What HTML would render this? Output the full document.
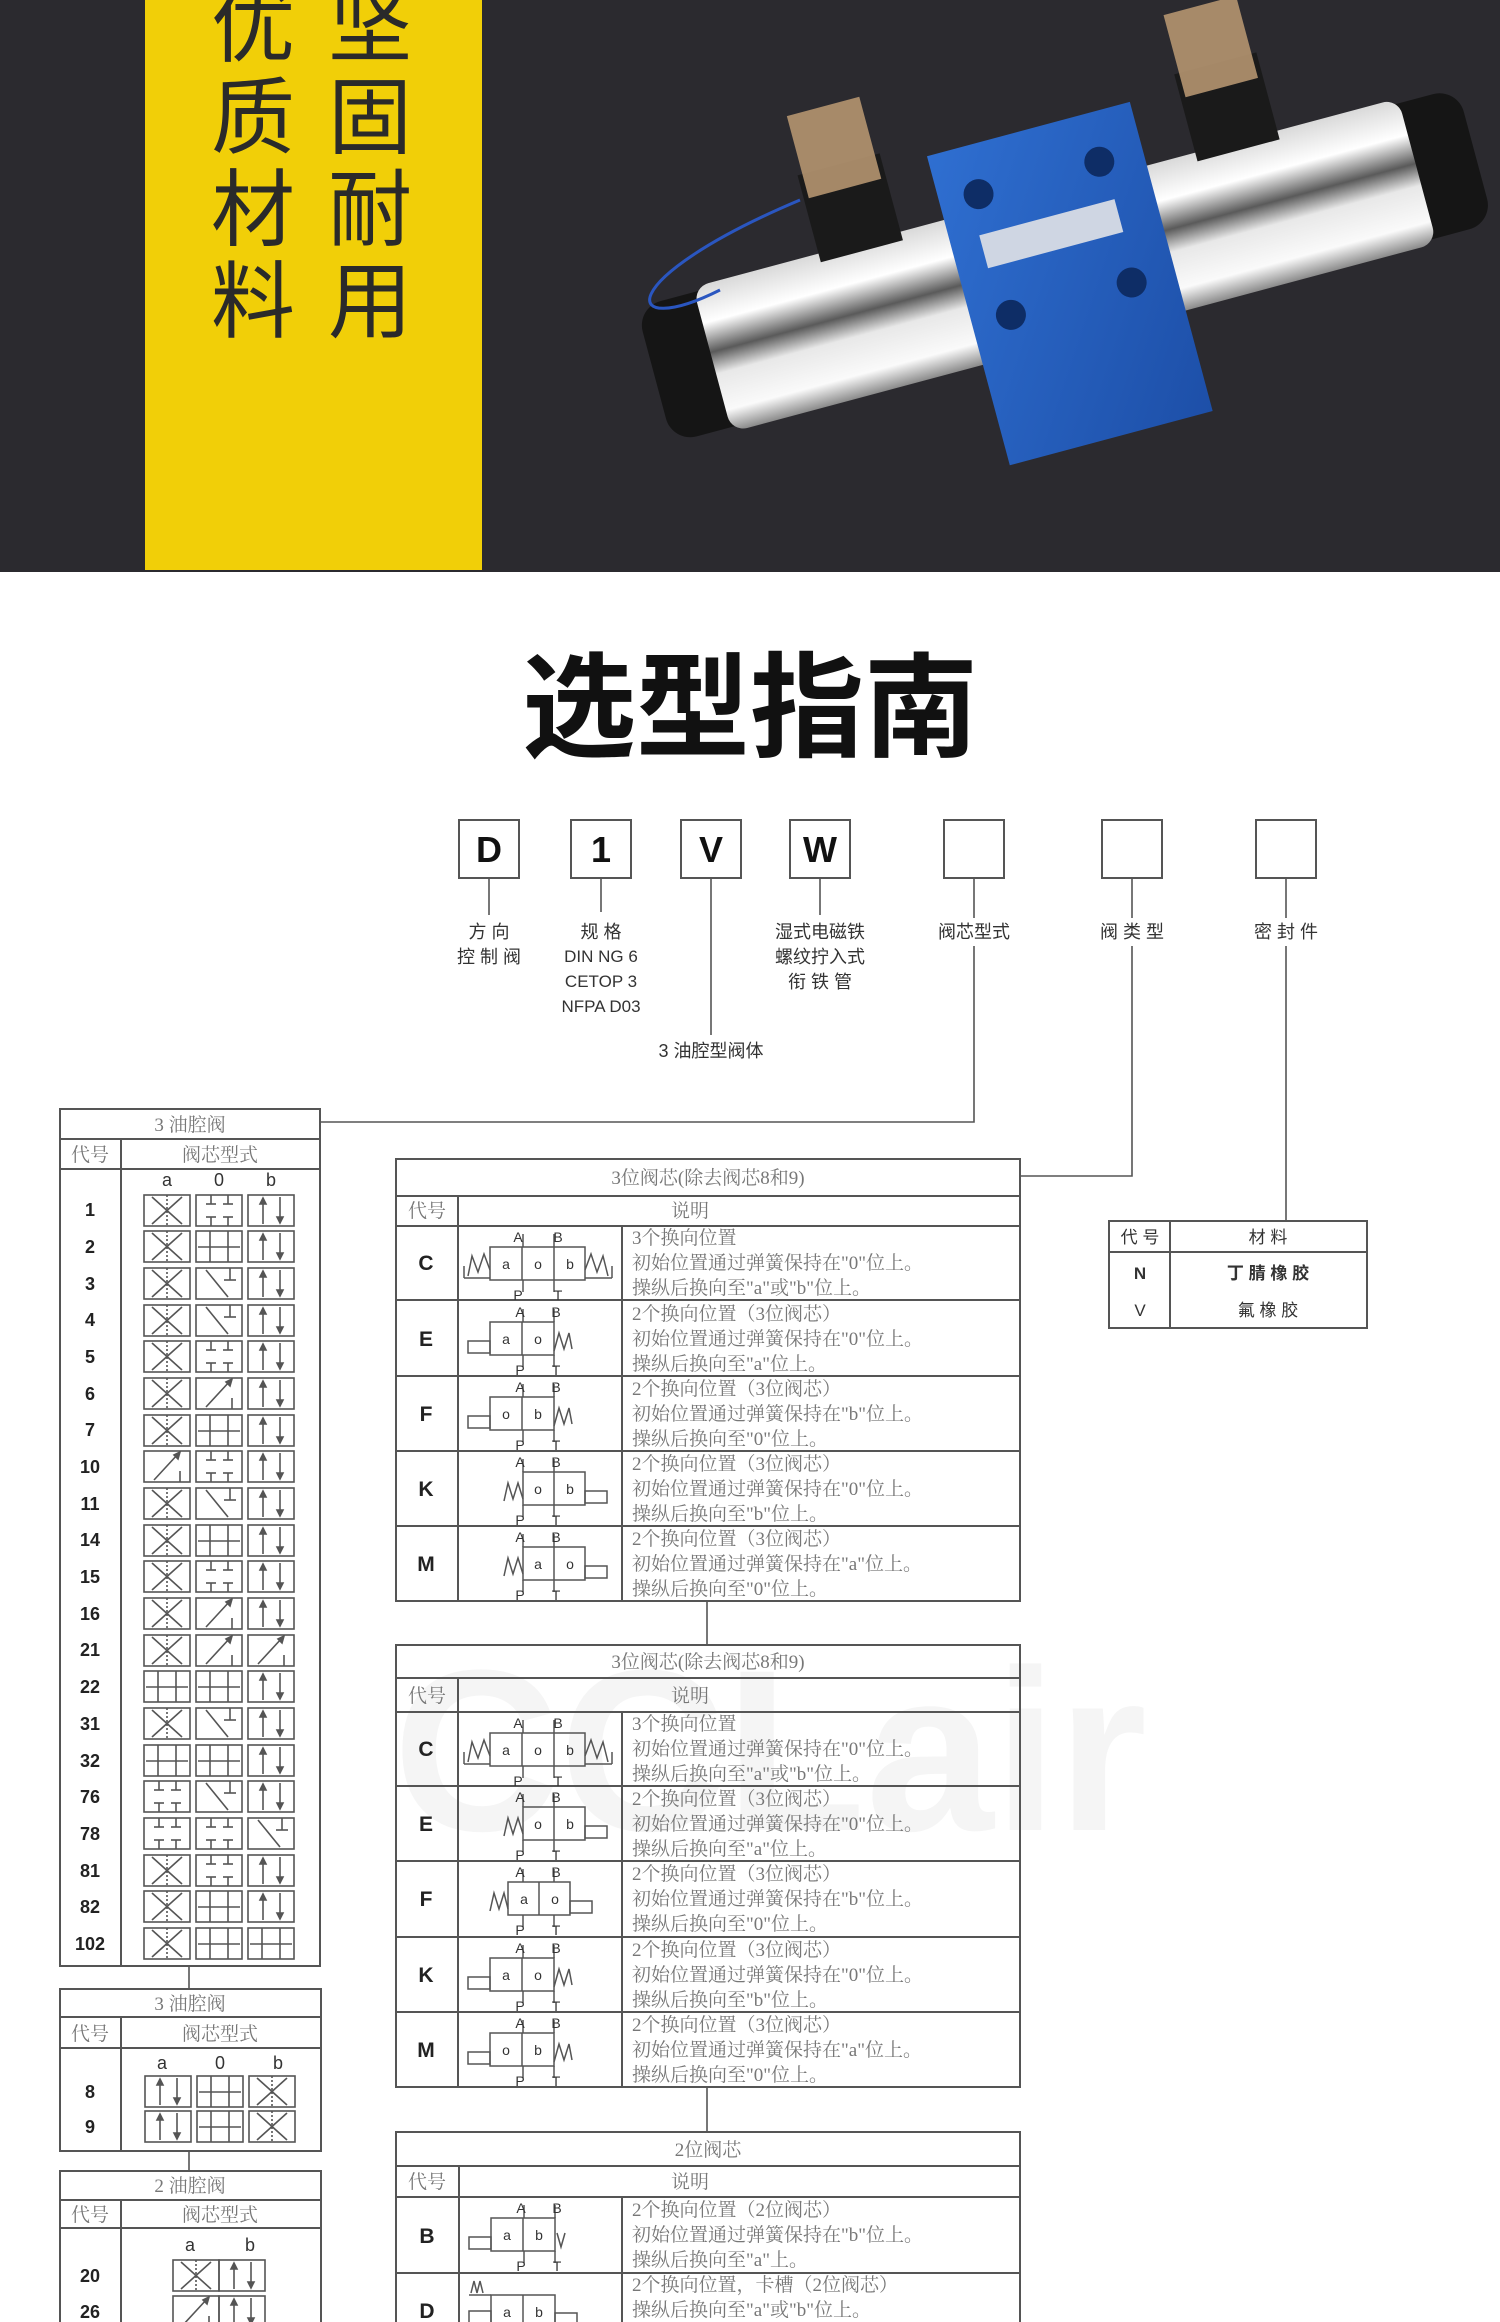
<!DOCTYPE html>
<html><head><meta charset="utf-8"><style>
html,body{margin:0;padding:0;background:#fff;}
svg{display:block;}
.cj{font-family:"Liberation Sans","Noto Sans CJK SC",sans-serif;}
.sf{font-family:"Liberation Serif","Noto Serif CJK SC",serif;}
</style></head><body>
<svg width="1500" height="2322" viewBox="0 0 1500 2322" xmlns="http://www.w3.org/2000/svg">
<defs>
<linearGradient id="chrome" x1="0" y1="0" x2="0" y2="1">
<stop offset="0" stop-color="#d9d9d9"/><stop offset="0.25" stop-color="#ffffff"/><stop offset="0.45" stop-color="#5a5a5a"/><stop offset="0.6" stop-color="#e8e8e8"/><stop offset="0.85" stop-color="#fafafa"/><stop offset="1" stop-color="#8a8a8a"/></linearGradient>
<linearGradient id="blue" x1="0" y1="0" x2="1" y2="1"><stop offset="0" stop-color="#2f6fd1"/><stop offset="1" stop-color="#1d4fa8"/></linearGradient>
<g id="cX" fill="none" stroke="#555" stroke-width="1.6"><rect x="0" y="0" width="46" height="31"/><line x1="8" y1="2" x2="38" y2="29"/><line x1="38" y1="2" x2="8" y2="29"/><line x1="23" y1="0" x2="23" y2="31" stroke-dasharray="2 2"/></g>
<g id="cB" fill="none" stroke="#555" stroke-width="1.6"><rect x="0" y="0" width="46" height="31"/><line x1="15" y1="29" x2="15" y2="4"/><path d="M12 9 L15 3 L18 9Z" fill="#555"/><line x1="32" y1="2" x2="32" y2="27"/><path d="M29 22 L32 28 L35 22Z" fill="#555"/></g>
<g id="cT" fill="none" stroke="#555" stroke-width="1.6"><rect x="0" y="0" width="46" height="31"/><line x1="15" y1="0" x2="15" y2="9"/><line x1="10" y1="9" x2="20" y2="9"/><line x1="32" y1="0" x2="32" y2="9"/><line x1="27" y1="9" x2="37" y2="9"/><line x1="15" y1="31" x2="15" y2="22"/><line x1="10" y1="22" x2="20" y2="22"/><line x1="32" y1="31" x2="32" y2="22"/><line x1="27" y1="22" x2="37" y2="22"/></g>
<g id="cH" fill="none" stroke="#555" stroke-width="1.6"><rect x="0" y="0" width="46" height="31"/><line x1="14" y1="0" x2="14" y2="31"/><line x1="32" y1="0" x2="32" y2="31"/><line x1="2" y1="16" x2="44" y2="16"/></g>
<g id="cD" fill="none" stroke="#555" stroke-width="1.6"><rect x="0" y="0" width="46" height="31"/><line x1="10" y1="29" x2="34" y2="3"/><path d="M30 4 L36 1 L34 8Z" fill="#555"/><line x1="36" y1="31" x2="36" y2="20"/></g>
<g id="cN" fill="none" stroke="#555" stroke-width="1.6"><rect x="0" y="0" width="46" height="31"/><line x1="10" y1="2" x2="32" y2="29"/><line x1="34" y1="0" x2="34" y2="12"/><line x1="28" y1="12" x2="40" y2="12"/></g>
</defs>

<!-- top banner -->
<rect x="0" y="0" width="1500" height="572" fill="#2b2a2f"/>
<rect x="145" y="0" width="337" height="570" fill="#f1cf08"/>
<g class="cj" font-size="84" fill="#2a2a2a" text-anchor="middle">
<text x="253" y="55">优</text><text x="253" y="147">质</text><text x="253" y="239">材</text><text x="253" y="331">料</text>
<text x="370" y="55">坚</text><text x="370" y="147">固</text><text x="370" y="239">耐</text><text x="370" y="331">用</text>
</g>
<!-- product -->
<g transform="rotate(-15 1062 266)">
<rect x="640" y="196" width="120" height="140" rx="25" fill="#151515"/>
<rect x="1380" y="196" width="110" height="140" rx="25" fill="#151515"/>
<rect x="700" y="191" width="730" height="150" rx="16" fill="url(#chrome)"/>
<rect x="960" y="125" width="210" height="320" fill="url(#blue)"/>
<circle cx="1000" cy="175" r="15" fill="#0e2d66"/><circle cx="1125" cy="175" r="15" fill="#0e2d66"/>
<circle cx="1000" cy="300" r="15" fill="#0e2d66"/><circle cx="1125" cy="300" r="15" fill="#0e2d66"/>
<rect x="990" y="215" width="140" height="34" fill="#cfd6e3"/>
<rect x="830" y="110" width="85" height="90" fill="#1a1a1a"/><rect x="835" y="50" width="75" height="85" fill="#b59570" opacity="0.9"/>
<rect x="1220" y="110" width="85" height="90" fill="#1a1a1a"/><rect x="1225" y="50" width="75" height="85" fill="#b59570" opacity="0.9"/>
</g>
<path d="M800 200 C 610 280, 620 340, 720 290" stroke="#2a56c0" stroke-width="3" fill="none"/>

<!-- title -->
<text x="750" y="748" class="cj" font-size="114" font-weight="bold" text-anchor="middle" fill="#111">选型指南</text>

<!-- code boxes -->
<g fill="#fff" stroke="#555" stroke-width="2">
<rect x="459" y="820" width="60" height="58"/><rect x="571" y="820" width="60" height="58"/><rect x="681" y="820" width="60" height="58"/><rect x="790" y="820" width="60" height="58"/>
<rect x="944" y="820" width="60" height="58"/><rect x="1102" y="820" width="60" height="58"/><rect x="1256" y="820" width="60" height="58"/>
</g>
<g font-family="Liberation Sans,sans-serif" font-weight="bold" font-size="36" text-anchor="middle" fill="#111">
<text x="489" y="862">D</text><text x="601" y="862">1</text><text x="711" y="862">V</text><text x="820" y="862">W</text>
</g>
<g stroke="#555" stroke-width="1.6" fill="none">
<line x1="489" y1="878" x2="489" y2="915"/><line x1="601" y1="878" x2="601" y2="912"/><line x1="711" y1="878" x2="711" y2="1035"/><line x1="820" y1="878" x2="820" y2="915"/>
<line x1="974" y1="878" x2="974" y2="918"/><line x1="1132" y1="878" x2="1132" y2="918"/><line x1="1286" y1="878" x2="1286" y2="918"/>
<polyline points="974,946 974,1122 320,1122"/>
<polyline points="1132,946 1132,1176 1020,1176"/>
<line x1="1286" y1="946" x2="1286" y2="1221"/>
<line x1="707" y1="1601" x2="707" y2="1645"/><line x1="707" y1="2087" x2="707" y2="2132"/>
<line x1="189" y1="1966" x2="189" y2="1989"/><line x1="189" y1="2151" x2="189" y2="2171"/>
</g>
<g class="cj" font-size="18" fill="#333" text-anchor="middle">
<text x="489" y="938">方 向</text><text x="489" y="963">控 制 阀</text>
<text x="601" y="938">规 格</text><text x="601" y="962" font-size="17">DIN NG 6</text><text x="601" y="987" font-size="17">CETOP 3</text><text x="601" y="1012" font-size="17">NFPA D03</text>
<text x="820" y="938">湿式电磁铁</text><text x="820" y="963">螺纹拧入式</text><text x="820" y="988">衔 铁 管</text>
<text x="711" y="1057">3 油腔型阀体</text>
<text x="974" y="938">阀芯型式</text><text x="1132" y="938">阀 类 型</text><text x="1286" y="938">密 封 件</text>
</g>

<!-- watermark -->
<text x="770" y="1830" font-family="Liberation Sans,sans-serif" font-weight="bold" font-size="230" fill="#f5f5f5" text-anchor="middle">CCLair</text>

<!-- left table 1 -->
<g fill="none" stroke="#555" stroke-width="2">
<rect x="60" y="1109" width="260" height="857"/><line x1="60" y1="1139" x2="320" y2="1139"/><line x1="60" y1="1169" x2="320" y2="1169"/><line x1="121" y1="1139" x2="121" y2="1966"/>
<rect x="60" y="1989" width="261" height="162"/><line x1="60" y1="2017" x2="321" y2="2017"/><line x1="60" y1="2048" x2="321" y2="2048"/><line x1="121" y1="2017" x2="121" y2="2151"/>
<rect x="60" y="2171" width="261" height="160"/><line x1="60" y1="2200" x2="321" y2="2200"/><line x1="60" y1="2228" x2="321" y2="2228"/><line x1="121" y1="2200" x2="121" y2="2330"/>
</g>
<g class="sf" font-size="19" fill="#777" text-anchor="middle">
<text x="190" y="1131">3 油腔阀</text><text x="90" y="1161">代号</text><text x="220" y="1161">阀芯型式</text>
<text x="190" y="2010">3 油腔阀</text><text x="90" y="2040">代号</text><text x="220" y="2040">阀芯型式</text>
<text x="190" y="2192">2 油腔阀</text><text x="90" y="2221">代号</text><text x="220" y="2221">阀芯型式</text>
</g>
<g font-family="Liberation Sans,sans-serif" font-size="18" fill="#333" text-anchor="middle">
<text x="167" y="1186">a</text><text x="219" y="1186">0</text><text x="271" y="1186">b</text>
<text x="162" y="2069">a</text><text x="220" y="2069">0</text><text x="278" y="2069">b</text>
<text x="190" y="2251">a</text><text x="250" y="2251">b</text>
</g>
<g font-family="Liberation Sans,sans-serif" font-size="18" font-weight="bold" fill="#222" text-anchor="middle">
<text x="90" y="1216">1</text><text x="90" y="1253">2</text><text x="90" y="1290">3</text><text x="90" y="1326">4</text><text x="90" y="1363">5</text><text x="90" y="1400">6</text><text x="90" y="1436">7</text><text x="90" y="1473">10</text><text x="90" y="1510">11</text><text x="90" y="1546">14</text><text x="90" y="1583">15</text><text x="90" y="1620">16</text><text x="90" y="1656">21</text><text x="90" y="1693">22</text><text x="90" y="1730">31</text><text x="90" y="1767">32</text><text x="90" y="1803">76</text><text x="90" y="1840">78</text><text x="90" y="1877">81</text><text x="90" y="1913">82</text><text x="90" y="1950">102</text>
<text x="90" y="2098">8</text><text x="90" y="2133">9</text>
<text x="90" y="2282">20</text><text x="90" y="2318">26</text>
</g>
<g>
<use href="#cX" x="144" y="1195"/><use href="#cT" x="196" y="1195"/><use href="#cB" x="248" y="1195"/>
<use href="#cX" x="144" y="1231"/><use href="#cH" x="196" y="1231"/><use href="#cB" x="248" y="1231"/>
<use href="#cX" x="144" y="1268"/><use href="#cN" x="196" y="1268"/><use href="#cB" x="248" y="1268"/>
<use href="#cX" x="144" y="1305"/><use href="#cN" x="196" y="1305"/><use href="#cB" x="248" y="1305"/>
<use href="#cX" x="144" y="1341"/><use href="#cT" x="196" y="1341"/><use href="#cB" x="248" y="1341"/>
<use href="#cX" x="144" y="1378"/><use href="#cD" x="196" y="1378"/><use href="#cB" x="248" y="1378"/>
<use href="#cX" x="144" y="1415"/><use href="#cH" x="196" y="1415"/><use href="#cB" x="248" y="1415"/>
<use href="#cD" x="144" y="1451"/><use href="#cT" x="196" y="1451"/><use href="#cB" x="248" y="1451"/>
<use href="#cX" x="144" y="1488"/><use href="#cN" x="196" y="1488"/><use href="#cB" x="248" y="1488"/>
<use href="#cX" x="144" y="1525"/><use href="#cH" x="196" y="1525"/><use href="#cB" x="248" y="1525"/>
<use href="#cX" x="144" y="1561"/><use href="#cT" x="196" y="1561"/><use href="#cB" x="248" y="1561"/>
<use href="#cX" x="144" y="1598"/><use href="#cD" x="196" y="1598"/><use href="#cB" x="248" y="1598"/>
<use href="#cX" x="144" y="1635"/><use href="#cD" x="196" y="1635"/><use href="#cD" x="248" y="1635"/>
<use href="#cH" x="144" y="1671"/><use href="#cH" x="196" y="1671"/><use href="#cB" x="248" y="1671"/>
<use href="#cX" x="144" y="1708"/><use href="#cN" x="196" y="1708"/><use href="#cB" x="248" y="1708"/>
<use href="#cH" x="144" y="1745"/><use href="#cH" x="196" y="1745"/><use href="#cB" x="248" y="1745"/>
<use href="#cT" x="144" y="1781"/><use href="#cN" x="196" y="1781"/><use href="#cB" x="248" y="1781"/>
<use href="#cT" x="144" y="1818"/><use href="#cT" x="196" y="1818"/><use href="#cN" x="248" y="1818"/>
<use href="#cX" x="144" y="1855"/><use href="#cT" x="196" y="1855"/><use href="#cB" x="248" y="1855"/>
<use href="#cX" x="144" y="1891"/><use href="#cH" x="196" y="1891"/><use href="#cB" x="248" y="1891"/>
<use href="#cX" x="144" y="1928"/><use href="#cH" x="196" y="1928"/><use href="#cH" x="248" y="1928"/>
<use href="#cB" x="145" y="2076"/><use href="#cH" x="197" y="2076"/><use href="#cX" x="249" y="2076"/>
<use href="#cB" x="145" y="2111"/><use href="#cH" x="197" y="2111"/><use href="#cX" x="249" y="2111"/>
<use href="#cX" x="173" y="2260"/><use href="#cB" x="219" y="2260"/>
<use href="#cD" x="173" y="2296"/><use href="#cB" x="219" y="2296"/>
</g>

<!-- right tables frames -->
<g fill="none" stroke="#555" stroke-width="2">
<rect x="396" y="1159" width="624" height="442"/><line x1="396" y1="1196" x2="1020" y2="1196"/><line x1="396" y1="1226" x2="1020" y2="1226"/><line x1="458" y1="1196" x2="458" y2="1601"/><line x1="622" y1="1226" x2="622" y2="1601"/>
<line x1="396" y1="1300" x2="1020" y2="1300"/><line x1="396" y1="1376" x2="1020" y2="1376"/><line x1="396" y1="1451" x2="1020" y2="1451"/><line x1="396" y1="1526" x2="1020" y2="1526"/>
<rect x="396" y="1645" width="624" height="442"/><line x1="396" y1="1678" x2="1020" y2="1678"/><line x1="396" y1="1712" x2="1020" y2="1712"/><line x1="458" y1="1678" x2="458" y2="2087"/><line x1="622" y1="1712" x2="622" y2="2087"/>
<line x1="396" y1="1786" x2="1020" y2="1786"/><line x1="396" y1="1861" x2="1020" y2="1861"/><line x1="396" y1="1937" x2="1020" y2="1937"/><line x1="396" y1="2012" x2="1020" y2="2012"/>
<rect x="396" y="2132" width="624" height="200"/><line x1="396" y1="2166" x2="1020" y2="2166"/><line x1="396" y1="2197" x2="1020" y2="2197"/><line x1="459" y1="2166" x2="459" y2="2330"/><line x1="622" y1="2197" x2="622" y2="2330"/><line x1="396" y1="2273" x2="1020" y2="2273"/>
<rect x="1109" y="1221" width="258" height="107"/><line x1="1109" y1="1252" x2="1367" y2="1252"/><line x1="1170" y1="1221" x2="1170" y2="1328"/>
</g>
<g class="sf" font-size="19" fill="#777" text-anchor="middle">
<text x="708" y="1184">3位阀芯(除去阀芯8和9)</text><text x="427" y="1217">代号</text><text x="690" y="1217">说明</text>
<text x="708" y="1668">3位阀芯(除去阀芯8和9)</text><text x="427" y="1702">代号</text><text x="690" y="1702">说明</text>
<text x="708" y="2156">2位阀芯</text><text x="427" y="2188">代号</text><text x="690" y="2188">说明</text>
</g>
<g class="cj" font-size="17" fill="#333" text-anchor="middle">
<text x="1140" y="1243">代 号</text><text x="1268" y="1243">材 料</text>
<text x="1140" y="1279" font-weight="bold">N</text><text x="1268" y="1279" font-weight="bold">丁 腈 橡 胶</text>
<text x="1140" y="1316">V</text><text x="1268" y="1316">氟 橡 胶</text>
</g>
<g font-family="Liberation Sans,sans-serif" font-size="21" font-weight="bold" fill="#222" text-anchor="middle">
<text x="426" y="1270">C</text><text x="426" y="1346">E</text><text x="426" y="1421">F</text><text x="426" y="1496">K</text><text x="426" y="1571">M</text>
<text x="426" y="1756">C</text><text x="426" y="1831">E</text><text x="426" y="1906">F</text><text x="426" y="1982">K</text><text x="426" y="2057">M</text>
<text x="427" y="2243">B</text><text x="427" y="2318">D</text>
</g>
<g class="sf" font-size="19" fill="#777">
<text x="632" y="1244">3个换向位置</text><text x="632" y="1269">初始位置通过弹簧保持在"0"位上。</text><text x="632" y="1294">操纵后换向至"a"或"b"位上。</text>
<text x="632" y="1320">2个换向位置（3位阀芯）</text><text x="632" y="1345">初始位置通过弹簧保持在"0"位上。</text><text x="632" y="1370">操纵后换向至"a"位上。</text>
<text x="632" y="1395">2个换向位置（3位阀芯）</text><text x="632" y="1420">初始位置通过弹簧保持在"b"位上。</text><text x="632" y="1445">操纵后换向至"0"位上。</text>
<text x="632" y="1470">2个换向位置（3位阀芯）</text><text x="632" y="1495">初始位置通过弹簧保持在"0"位上。</text><text x="632" y="1520">操纵后换向至"b"位上。</text>
<text x="632" y="1545">2个换向位置（3位阀芯）</text><text x="632" y="1570">初始位置通过弹簧保持在"a"位上。</text><text x="632" y="1595">操纵后换向至"0"位上。</text>
<text x="632" y="1730">3个换向位置</text><text x="632" y="1755">初始位置通过弹簧保持在"0"位上。</text><text x="632" y="1780">操纵后换向至"a"或"b"位上。</text>
<text x="632" y="1805">2个换向位置（3位阀芯）</text><text x="632" y="1830">初始位置通过弹簧保持在"0"位上。</text><text x="632" y="1855">操纵后换向至"a"位上。</text>
<text x="632" y="1880">2个换向位置（3位阀芯）</text><text x="632" y="1905">初始位置通过弹簧保持在"b"位上。</text><text x="632" y="1930">操纵后换向至"0"位上。</text>
<text x="632" y="1956">2个换向位置（3位阀芯）</text><text x="632" y="1981">初始位置通过弹簧保持在"0"位上。</text><text x="632" y="2006">操纵后换向至"b"位上。</text>
<text x="632" y="2031">2个换向位置（3位阀芯）</text><text x="632" y="2056">初始位置通过弹簧保持在"a"位上。</text><text x="632" y="2081">操纵后换向至"0"位上。</text>
<text x="632" y="2216">2个换向位置（2位阀芯）</text><text x="632" y="2241">初始位置通过弹簧保持在"b"位上。</text><text x="632" y="2266">操纵后换向至"a"上。</text>
<text x="632" y="2291">2个换向位置，卡槽（2位阀芯）</text><text x="632" y="2316">操纵后换向至"a"或"b"位上。</text>
</g>

<g id="symC" transform="translate(458,1226)" fill="none" stroke="#555" stroke-width="1.5" font-family="Liberation Sans,sans-serif" font-size="14">
<rect x="32" y="21" width="95" height="33"/><line x1="64" y1="21" x2="64" y2="54"/><line x1="96" y1="21" x2="96" y2="54"/>
<line x1="65" y1="8" x2="65" y2="21"/><line x1="96" y1="8" x2="96" y2="21"/><line x1="65" y1="54" x2="65" y2="66"/><line x1="96" y1="54" x2="96" y2="66"/>
<polyline points="10,50 14,30 20,46 26,28 32,44"/><polyline points="127,44 133,28 139,46 145,30 150,50"/>
<line x1="6" y1="52" x2="32" y2="52"/><line x1="127" y1="52" x2="154" y2="52"/><line x1="6" y1="40" x2="6" y2="52"/><line x1="154" y1="40" x2="154" y2="52"/>
<g fill="#333" stroke="none" text-anchor="middle"><text x="48" y="43">a</text><text x="80" y="43">o</text><text x="112" y="43">b</text><text x="60" y="16">A</text><text x="100" y="16">B</text><text x="60" y="74">P</text><text x="100" y="74">T</text></g>
</g>
<g transform="translate(458,1301)" fill="none" stroke="#555" stroke-width="1.5" font-family="Liberation Sans,sans-serif" font-size="14">
<rect x="32" y="21" width="64" height="33"/><line x1="64" y1="21" x2="64" y2="54"/><line x1="65" y1="8" x2="65" y2="21"/><line x1="96" y1="8" x2="96" y2="21"/><line x1="65" y1="54" x2="65" y2="66"/><line x1="96" y1="54" x2="96" y2="66"/>
<rect x="10" y="40" width="22" height="12"/><polyline points="96,50 101,32 106,48 111,32 114,48"/>
<g fill="#333" stroke="none" text-anchor="middle"><text x="48" y="43">a</text><text x="80" y="43">o</text><text x="62" y="16">A</text><text x="98" y="16">B</text><text x="62" y="74">P</text><text x="98" y="74">T</text></g>
</g>
<g transform="translate(458,1376)" fill="none" stroke="#555" stroke-width="1.5" font-family="Liberation Sans,sans-serif" font-size="14">
<rect x="32" y="21" width="64" height="33"/><line x1="64" y1="21" x2="64" y2="54"/><line x1="65" y1="8" x2="65" y2="21"/><line x1="96" y1="8" x2="96" y2="21"/><line x1="65" y1="54" x2="65" y2="66"/><line x1="96" y1="54" x2="96" y2="66"/>
<rect x="10" y="40" width="22" height="12"/><polyline points="96,50 101,32 106,48 111,32 114,48"/>
<g fill="#333" stroke="none" text-anchor="middle"><text x="48" y="43">o</text><text x="80" y="43">b</text><text x="62" y="16">A</text><text x="98" y="16">B</text><text x="62" y="74">P</text><text x="98" y="74">T</text></g>
</g>
<g transform="translate(458,1451)" fill="none" stroke="#555" stroke-width="1.5" font-family="Liberation Sans,sans-serif" font-size="14">
<rect x="65" y="21" width="62" height="33"/><line x1="96" y1="21" x2="96" y2="54"/><line x1="65" y1="8" x2="65" y2="21"/><line x1="96" y1="8" x2="96" y2="21"/><line x1="65" y1="54" x2="65" y2="66"/><line x1="96" y1="54" x2="96" y2="66"/>
<rect x="127" y="40" width="22" height="12"/><polyline points="46,50 50,32 55,48 60,32 65,48"/>
<g fill="#333" stroke="none" text-anchor="middle"><text x="80" y="43">o</text><text x="112" y="43">b</text><text x="62" y="16">A</text><text x="98" y="16">B</text><text x="62" y="74">P</text><text x="98" y="74">T</text></g>
</g>
<g transform="translate(458,1526)" fill="none" stroke="#555" stroke-width="1.5" font-family="Liberation Sans,sans-serif" font-size="14">
<rect x="65" y="21" width="62" height="33"/><line x1="96" y1="21" x2="96" y2="54"/><line x1="65" y1="8" x2="65" y2="21"/><line x1="96" y1="8" x2="96" y2="21"/><line x1="65" y1="54" x2="65" y2="66"/><line x1="96" y1="54" x2="96" y2="66"/>
<rect x="127" y="40" width="22" height="12"/><polyline points="46,50 50,32 55,48 60,32 65,48"/>
<g fill="#333" stroke="none" text-anchor="middle"><text x="80" y="43">a</text><text x="112" y="43">o</text><text x="62" y="16">A</text><text x="98" y="16">B</text><text x="62" y="74">P</text><text x="98" y="74">T</text></g>
</g>
<use href="#symC" transform="translate(0,486)"/>
<g transform="translate(458,1786)" fill="none" stroke="#555" stroke-width="1.5" font-family="Liberation Sans,sans-serif" font-size="14">
<rect x="65" y="21" width="62" height="33"/><line x1="96" y1="21" x2="96" y2="54"/><line x1="65" y1="8" x2="65" y2="21"/><line x1="96" y1="8" x2="96" y2="21"/><line x1="65" y1="54" x2="65" y2="66"/><line x1="96" y1="54" x2="96" y2="66"/>
<rect x="127" y="40" width="22" height="12"/><polyline points="46,50 50,32 55,48 60,32 65,48"/>
<g fill="#333" stroke="none" text-anchor="middle"><text x="80" y="43">o</text><text x="112" y="43">b</text><text x="62" y="16">A</text><text x="98" y="16">B</text><text x="62" y="74">P</text><text x="98" y="74">T</text></g>
</g>
<g transform="translate(458,1861)" fill="none" stroke="#555" stroke-width="1.5" font-family="Liberation Sans,sans-serif" font-size="14">
<rect x="50" y="21" width="62" height="33"/><line x1="81" y1="21" x2="81" y2="54"/><line x1="65" y1="8" x2="65" y2="21"/><line x1="96" y1="8" x2="96" y2="21"/><line x1="65" y1="54" x2="65" y2="66"/><line x1="96" y1="54" x2="96" y2="66"/>
<rect x="112" y="40" width="22" height="12"/><polyline points="32,50 36,32 41,48 46,32 50,48"/>
<g fill="#333" stroke="none" text-anchor="middle"><text x="66" y="43">a</text><text x="97" y="43">o</text><text x="62" y="16">A</text><text x="98" y="16">B</text><text x="62" y="74">P</text><text x="98" y="74">T</text></g>
</g>
<g transform="translate(458,1937)" fill="none" stroke="#555" stroke-width="1.5" font-family="Liberation Sans,sans-serif" font-size="14">
<rect x="32" y="21" width="64" height="33"/><line x1="64" y1="21" x2="64" y2="54"/><line x1="65" y1="8" x2="65" y2="21"/><line x1="96" y1="8" x2="96" y2="21"/><line x1="65" y1="54" x2="65" y2="66"/><line x1="96" y1="54" x2="96" y2="66"/>
<rect x="10" y="40" width="22" height="12"/><polyline points="96,50 101,32 106,48 111,32 114,48"/>
<g fill="#333" stroke="none" text-anchor="middle"><text x="48" y="43">a</text><text x="80" y="43">o</text><text x="62" y="16">A</text><text x="98" y="16">B</text><text x="62" y="74">P</text><text x="98" y="74">T</text></g>
</g>
<g transform="translate(458,2012)" fill="none" stroke="#555" stroke-width="1.5" font-family="Liberation Sans,sans-serif" font-size="14">
<rect x="32" y="21" width="64" height="33"/><line x1="64" y1="21" x2="64" y2="54"/><line x1="65" y1="8" x2="65" y2="21"/><line x1="96" y1="8" x2="96" y2="21"/><line x1="65" y1="54" x2="65" y2="66"/><line x1="96" y1="54" x2="96" y2="66"/>
<rect x="10" y="40" width="22" height="12"/><polyline points="96,50 101,32 106,48 111,32 114,48"/>
<g fill="#333" stroke="none" text-anchor="middle"><text x="48" y="43">o</text><text x="80" y="43">b</text><text x="62" y="16">A</text><text x="98" y="16">B</text><text x="62" y="74">P</text><text x="98" y="74">T</text></g>
</g>
<g transform="translate(459,2197)" fill="none" stroke="#555" stroke-width="1.5" font-family="Liberation Sans,sans-serif" font-size="14">
<rect x="32" y="21" width="64" height="33"/><line x1="64" y1="21" x2="64" y2="54"/><line x1="65" y1="8" x2="65" y2="21"/><line x1="96" y1="8" x2="96" y2="21"/><line x1="65" y1="54" x2="65" y2="66"/><line x1="96" y1="54" x2="96" y2="66"/>
<rect x="10" y="40" width="22" height="12"/><polyline points="98,36 102,50 106,36"/>
<g fill="#333" stroke="none" text-anchor="middle"><text x="48" y="43">a</text><text x="80" y="43">b</text><text x="62" y="16">A</text><text x="98" y="16">B</text><text x="62" y="74">P</text><text x="98" y="74">T</text></g>
</g>
<g transform="translate(459,2273)" fill="none" stroke="#555" stroke-width="1.5" font-family="Liberation Sans,sans-serif" font-size="14">
<rect x="32" y="22" width="64" height="33"/><line x1="64" y1="22" x2="64" y2="55"/><line x1="10" y1="22" x2="32" y2="22"/><polyline points="12,20 15,8 18,20 21,8 24,20"/>
<rect x="10" y="38" width="22" height="12"/><rect x="96" y="40" width="22" height="12"/>
<g fill="#333" stroke="none" text-anchor="middle"><text x="48" y="44">a</text><text x="80" y="44">b</text></g>
</g>
</svg>
</body></html>
